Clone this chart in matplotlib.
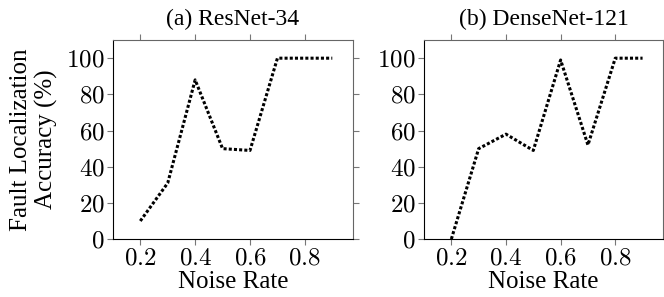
import matplotlib
matplotlib.use("Agg")
import matplotlib.pyplot as plt
from matplotlib.ticker import FuncFormatter

plt.rcParams['font.family'] = ['Liberation Serif', 'DejaVu Serif']
plt.rcParams['mathtext.fontset'] = 'cm'

noise_rate = [0.2, 0.3, 0.4, 0.5, 0.6, 0.7, 0.8, 0.9]
resnet34 = [10, 31, 88, 50, 49, 100, 100, 100]
densenet121 = [0, 50, 58, 49, 99, 52, 100, 100]
titles = ["(a) ResNet-34", "(b) DenseNet-121"]
x_ticks = [0.2, 0.4, 0.6, 0.8]
y_ticks = [0, 20, 40, 60, 80, 100]

fig = plt.figure(figsize=(6.64, 2.97), dpi=100)
ax1 = fig.add_axes([0.170, 0.195, 0.3614, 0.670])
ax2 = fig.add_axes([0.6386, 0.195, 0.3600, 0.670])

fmt = FuncFormatter(lambda v, p: r"$\mathrm{%g}$" % v)

for ax, series, title in zip([ax1, ax2], [resnet34, densenet121], titles):
    ax.plot(noise_rate, series, color='black', lw=2.2, linestyle=(0, (1, 0.7)),
            solid_capstyle='butt', dash_capstyle='butt')
    ax.set_xlim(0.1, 0.975)
    ax.set_ylim(0, 110)
    ax.set_xticks(x_ticks)
    ax.set_yticks(y_ticks)
    ax.xaxis.set_major_formatter(fmt)
    ax.yaxis.set_major_formatter(fmt)
    ax.tick_params(axis='both', which='both', direction='out', length=4,
                   color='#777777', labelsize=18, top=True, right=True,
                   pad=2)
    for s in ['top', 'right']:
        ax.spines[s].set_color('#666666')
    for s in ['left', 'bottom']:
        ax.spines[s].set_color('black')
    for s in ax.spines.values():
        s.set_linewidth(0.8)
    ax.set_title(title, fontsize=17, pad=11)
    ax.set_xlabel("Noise Rate", fontsize=18, labelpad=1)

ax1.set_ylabel("Fault Localization\nAccuracy (%)", fontsize=18, labelpad=6,
               linespacing=1.15)

fig.savefig("out.png", dpi=100)
